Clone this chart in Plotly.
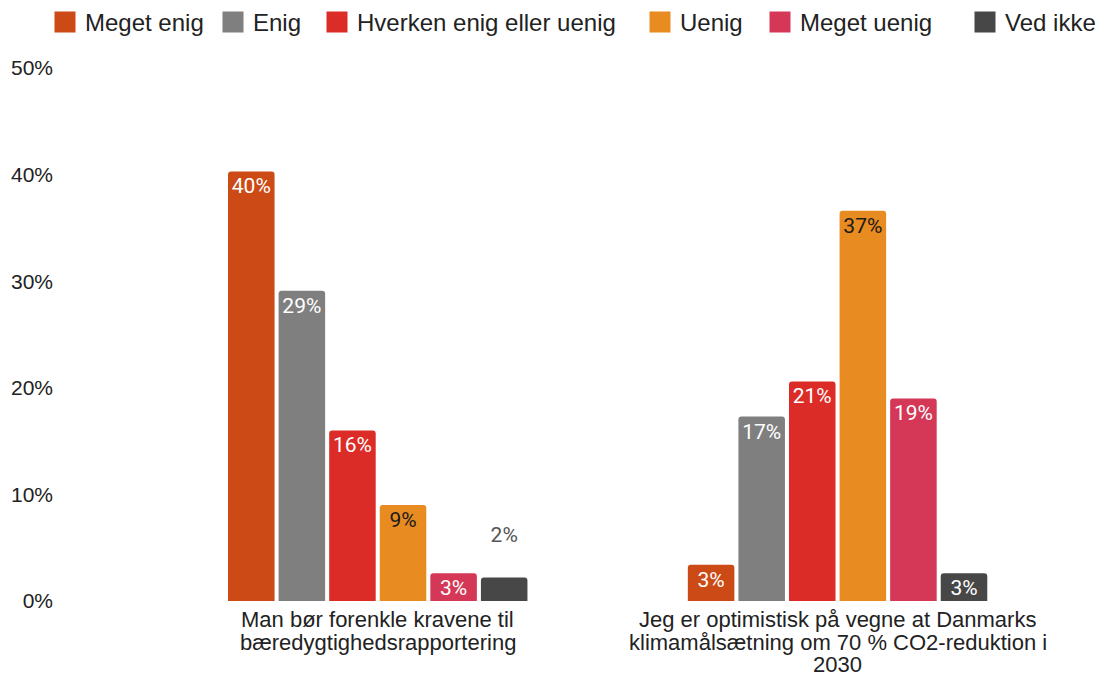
import plotly.graph_objects as go

# Survey answers (percent of respondents)
categories = [
    "Man bør forenkle kravene til<br>bæredygtighedsrapportering",
    "Jeg er optimistisk på vegne at Danmarks<br>klimamålsætning om 70 % CO2-reduktion i<br>2030",
]
answers = ["Meget enig", "Enig", "Hverken enig eller uenig", "Uenig", "Meget uenig", "Ved ikke"]
meget_enig = [40.3, 3.4]
enig = [29.1, 17.3]
hverken = [16.0, 20.6]
uenig = [9.0, 36.6]
meget_uenig = [2.6, 19.0]
ved_ikke = [2.2, 2.6]
y_ticks = [0, 10, 20, 30, 40, 50]

series = [meget_enig, enig, hverken, uenig, meget_uenig, ved_ikke]
colors = ["#cc4a16", "#7f7f7f", "#dc2c27", "#e88b21", "#d53757", "#474747"]
text_colors = ["white", "white", "white", "#1a1a1a", "white", "white"]
# left edge (px) of each legend entry, legend is spread like the original
legend_left = [45, 213, 317, 640, 760, 965]

x_pos = list(range(len(categories)))

fig = go.Figure()
legend_layout = {}
for k, (name, vals, col, tcol) in enumerate(zip(answers, series, colors, text_colors)):
    positions = ["inside" if v >= 2.5 else "outside" for v in vals]
    fig.add_trace(go.Bar(
        x=x_pos, y=vals, name=name,
        marker=dict(color=col, line=dict(width=0)),
        text=[f"{v:.0f}%" if v >= 2.5 else f"{v:.0f}%<br> " for v in vals],
        texttemplate="%{text}",
        textposition=positions,
        insidetextanchor="end",
        constraintext="none",
        insidetextfont=dict(family="Roboto", size=21, color=tcol),
        outsidetextfont=dict(family="Roboto", size=21, color="#555555"),
        cliponaxis=False,
        showlegend=False,
    ))
    # legend entry with a bigger square, one legend box per entry
    leg = "legend" if k == 0 else f"legend{k + 1}"
    fig.add_trace(go.Scatter(
        x=[None], y=[None], mode="markers", name=name, legend=leg,
        marker=dict(symbol="square", size=16, color=col, line=dict(color=col, width=5)),
    ))
    legend_layout[leg] = dict(
        orientation="h", xref="container", x=legend_left[k] / 1103, xanchor="left",
        yref="container", y=1.0, yanchor="top",
        font=dict(size=24, color="#222222"), bgcolor="rgba(0,0,0,0)",
    )

# category labels under the bars, tighter line spacing than tick labels allow
for xi, label in zip(x_pos, categories):
    for i, line in enumerate(label.split("<br>")):
        fig.add_annotation(
            x=xi, y=0, xref="x", yref="y", text=line, showarrow=False,
            yanchor="middle", yshift=-(18 + 22.5 * i), height=26,
            font=dict(size=22, color="#222222"),
        )

fig.update_layout(
    width=1103, height=678,
    paper_bgcolor="white", plot_bgcolor="white",
    font=dict(family="Liberation Sans, Arial, sans-serif", size=21, color="#222222"),
    margin=dict(l=60, r=13, t=68, b=77),
    barmode="group", bargap=0.34, bargroupgap=0.08,
    barcornerradius=3,
    **legend_layout,
)
fig.update_xaxes(
    tickvals=x_pos, ticktext=["", ""], range=[-0.691, 1.549],
    showgrid=False, zeroline=False, showline=False, ticks="",
)
fig.update_yaxes(
    range=[0, 50], tickvals=y_ticks, ticktext=[f"{t}%" for t in y_ticks],
    showgrid=False, zeroline=False, showline=False, ticks="",
    ticklabelstandoff=6,
    tickfont=dict(size=21, color="#222222"),
)

# the page body has a default 8px margin, drop it so the chart sits at 0,0
fig.write_html(
    "out.html",
    config={"displayModeBar": False},
    post_script="document.body.style.margin='0';",
)
